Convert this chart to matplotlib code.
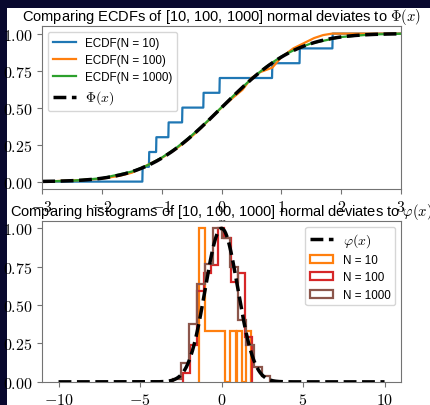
import math
import numpy as np
import matplotlib
matplotlib.use('Agg')
import matplotlib.pyplot as plt
from matplotlib.patches import Rectangle
from matplotlib.ticker import FuncFormatter

SAMPLE_10 = [-1.32, -1.21, -1.09, -0.89, -0.66, -0.30, -0.03, 0.85, 1.31, 1.86]

# ECDF(N = 100)
ECDF_100_X = [-3.0, -2.35, -2.0, -1.7, -1.5, -1.35, -1.2, -1.0, -0.8, -0.6, -0.4, -0.2,
              0.0, 0.2, 0.35, 0.5, 0.65, 0.85, 1.0, 1.2, 1.4, 1.55, 1.7, 1.85, 3.0]
ECDF_100_Y = [0.0, 0.01, 0.02, 0.04, 0.06, 0.09, 0.12, 0.16, 0.21, 0.27, 0.34, 0.42,
              0.50, 0.57, 0.62, 0.70, 0.74, 0.77, 0.84, 0.90, 0.94, 0.97, 0.99, 1.0, 1.0]

# ECDF(N = 1000)
ECDF_1000_X = [-3.0, -2.5, -2.0, -1.5, -1.25, -1.0, -0.75, -0.5, -0.25, 0.0, 0.25,
               0.5, 0.75, 1.0, 1.25, 1.5, 2.0, 2.5, 3.0]
ECDF_1000_Y = [0.001, 0.006, 0.023, 0.068, 0.108, 0.162, 0.230, 0.312, 0.403, 0.502,
               0.600, 0.694, 0.777, 0.845, 0.896, 0.934, 0.977, 0.994, 0.999]

# histograms, heights scaled so the tallest bar is 1
HIST_10_EDGES = [-1.40, -1.02, 0.20, 0.54, 0.86, 0.94, 1.25, 1.52, 1.83]
HIST_10_HEIGHTS = [1.0, 0.333, 0.0, 0.333, 0.0, 0.333, 0.0, 0.333]

HIST_100_EDGES = [-2.34, -1.92, -1.50, -1.08, -0.66, -0.24, 0.18, 0.60, 1.02, 1.44, 1.86]
HIST_100_HEIGHTS = [0.06, 0.24, 0.59, 0.71, 0.76, 1.0, 0.94, 0.65, 0.71, 0.29]

HIST_1000_EDGES = [-3.0, -2.5, -2.0, -1.5, -1.0, -0.5, 0.0, 0.5, 1.0, 1.5, 2.0, 2.5, 3.0]
HIST_1000_HEIGHTS = [0.02, 0.12, 0.38, 0.64, 0.77, 1.0, 0.94, 0.75, 0.40, 0.24, 0.10, 0.04]

X_TICKS_TOP = [-3, -2, -1, 0, 1, 2, 3]
X_TICKS_BOTTOM = [-10, -5, 0, 5, 10]
Y_TICKS = [0.0, 0.25, 0.5, 0.75, 1.0]

NAVY = '#08082e'


def ecdf(sample, grid):
  s = np.sort(sample)
  return np.searchsorted(s, grid, side='right') / len(s)


def main():
  plt.rcParams['font.family'] = ['Liberation Sans', 'DejaVu Sans']
  plt.rcParams['mathtext.fontset'] = 'cm'
  plt.rcParams['axes.edgecolor'] = '0.45'
  plt.rcParams['xtick.color'] = '0.45'
  plt.rcParams['ytick.color'] = '0.45'
  plt.rcParams['xtick.labelcolor'] = 'black'
  plt.rcParams['ytick.labelcolor'] = 'black'

  fig = plt.figure(figsize=(4.31, 4.06), dpi=100)
  fig.patch.set_facecolor(NAVY)
  fig.add_artist(Rectangle((7 / 431, 0), 1, 397 / 406, transform=fig.transFigure,
                           facecolor='white', edgecolor='none', zorder=-10))

  erf = np.vectorize(math.erf)
  tick_fmt_2 = FuncFormatter(lambda v, p: f'${v:.2f}$')
  tick_fmt_0 = FuncFormatter(lambda v, p: f'${v:.0f}$')

  # top: ECDFs
  ax1 = fig.add_axes([0.098, 0.532, 0.832, 0.401])
  grid = np.linspace(-3, 3, 1201)
  ax1.plot(grid, ecdf(SAMPLE_10, grid), color='tab:blue', lw=1.6, label='ECDF(N = 10)')
  ax1.plot(ECDF_100_X, ECDF_100_Y, color='tab:orange', lw=1.6, label='ECDF(N = 100)')
  ax1.plot(ECDF_1000_X, ECDF_1000_Y, color='tab:green', lw=1.6, label='ECDF(N = 1000)')
  ax1.plot(grid, 0.5 * (1 + erf(grid / math.sqrt(2))), 'k--', lw=2.5, label=r'$\Phi(x)$')
  ax1.set_xlim(-3, 3)
  ax1.set_xticks(X_TICKS_TOP)
  ax1.set_yticks(Y_TICKS)
  ax1.xaxis.set_major_formatter(tick_fmt_0)
  ax1.yaxis.set_major_formatter(tick_fmt_2)
  ax1.tick_params(labelsize=11.5)
  ax1.set_xlabel('$x$', fontsize=11.5, labelpad=0)
  ax1.set_title(r'Comparing ECDFs of [10, 100, 1000] normal deviates to $\Phi(x)$',
                fontsize=10.5, pad=4)
  leg1 = ax1.legend(loc='upper left', fontsize=8.4, labelspacing=0.45)
  leg1.get_texts()[3].set_fontsize(10)

  # bottom: histograms (phi first so it leads the legend, drawn on top via zorder)
  ax2 = fig.add_axes([0.098, 0.057, 0.832, 0.397])
  xs = np.linspace(-10, 10, 2001)
  ax2.plot(xs, np.exp(-xs ** 2 / 2), 'k--', lw=2.5, zorder=4, label=r'$\varphi(x)$')
  ax2.hist(HIST_10_EDGES[:-1], bins=HIST_10_EDGES, weights=HIST_10_HEIGHTS,
           histtype='step', color='tab:orange', lw=1.6, label='N = 10')
  ax2.hist(HIST_100_EDGES[:-1], bins=HIST_100_EDGES, weights=HIST_100_HEIGHTS,
           histtype='step', color='tab:red', lw=1.6, label='N = 100')
  ax2.hist(HIST_1000_EDGES[:-1], bins=HIST_1000_EDGES, weights=HIST_1000_HEIGHTS,
           histtype='step', color='tab:brown', lw=1.6, label='N = 1000')
  ax2.set_xticks(X_TICKS_BOTTOM)
  ax2.set_yticks(Y_TICKS)
  ax2.xaxis.set_major_formatter(tick_fmt_0)
  ax2.yaxis.set_major_formatter(tick_fmt_2)
  ax2.tick_params(labelsize=11.5)
  ax2.set_title(r'Comparing histograms of [10, 100, 1000] normal deviates to $\varphi(x)$',
                fontsize=10.5, pad=4)
  leg2 = ax2.legend(loc='upper right', fontsize=8.4, labelspacing=0.45)
  leg2.get_texts()[0].set_fontsize(10)

  fig.savefig('out.png', dpi=100, facecolor=fig.get_facecolor())


if __name__ == '__main__':
  main()
